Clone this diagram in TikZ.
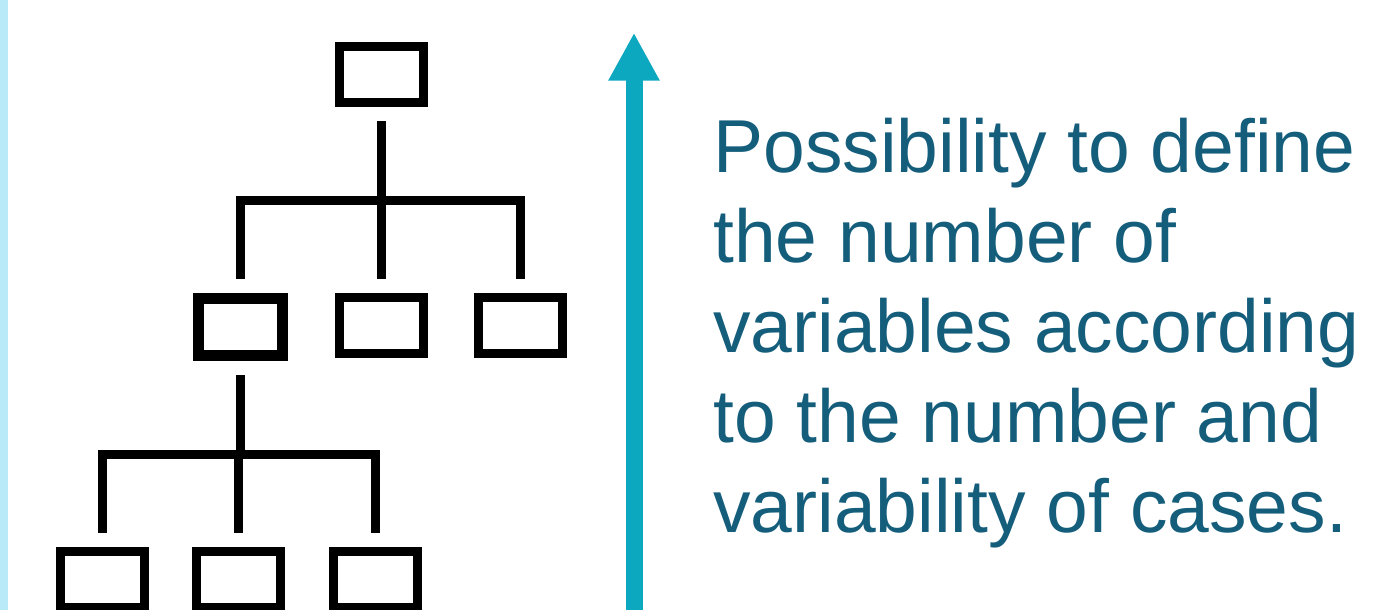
\documentclass[tikz,border=0pt]{standalone}
\usepackage{fontspec}
\setmainfont{Liberation Sans}
\usetikzlibrary{arrows.meta}
\definecolor{barblue}{RGB}{184,234,247}
\definecolor{arrowteal}{RGB}{12,168,192}
\definecolor{textteal}{RGB}{20,94,124}
\begin{document}
\begin{tikzpicture}[x=0.5pt,y=-0.5pt,
    unit/.style={draw, line width=4.5pt, minimum width=42pt, minimum height=28pt, inner sep=0pt},
    link/.style={line width=4.5pt, shorten <=7pt, shorten >=7pt}]
    \useasboundingbox (0,0) rectangle (1388,610);
    \fill[barblue] (0,0) rectangle (7.5,610);

    % the tree
    \node[unit] (root) at (381.5,75) {};
    \node[unit, line width=5.5pt, minimum height=28.5pt] (mida) at (240.5,327) {};
    \node[unit] (midb) at (381.5,325.7) {};
    \node[unit] (midc) at (520.5,325.7) {};
    \node[unit] (lowa) at (102,579) {};
    \node[unit] (lowb) at (238.5,579) {};
    \node[unit] (lowc) at (375,579) {};

    \draw[link] (root.south) -- ++(0,93.1) -| (mida.north);
    \draw[link] (root.south) -- (midb.north);
    \draw[link] (root.south) -- ++(0,93.1) -| (midc.north);
    \draw[link] (mida.south) -- ++(0,93) -| (lowa.north);
    \draw[link] (mida.south) -- ++(0,93) -| (lowb.north);
    \draw[link] (mida.south) -- ++(0,93) -| (lowc.north);

    % the arrow
    \coordinate (axisfoot) at (634,640);
    \coordinate (axistip) at (634,32.7);
    \draw[line width=8.5pt, arrowteal, -{Triangle[length=24pt,width=24pt]}] (axisfoot) -- (axistip);

    \node[anchor=base west, align=left, inner sep=0pt, text=textteal,
          font=\fontsize{37.5pt}{45pt}\selectfont] (caption) at (713,532.5)
          {Possibility to define\\the number of\\variables according\\to the number and\\variability of cases.};
\end{tikzpicture}
\end{document}
